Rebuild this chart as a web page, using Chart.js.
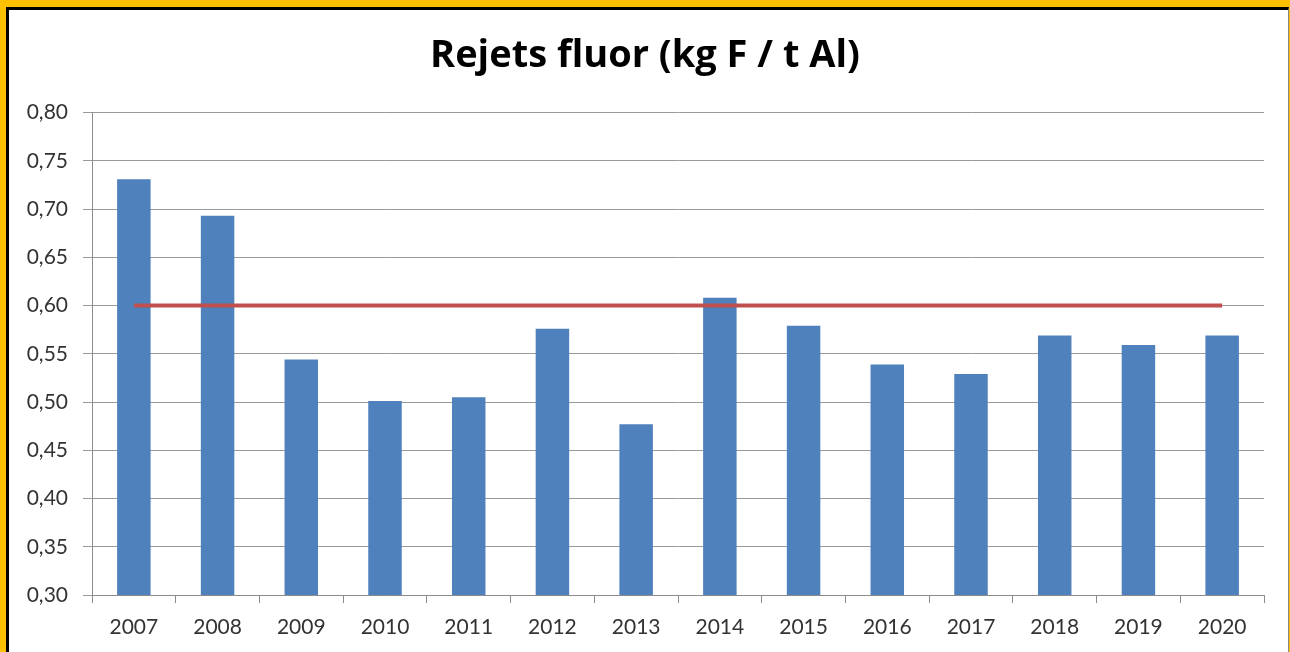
<!DOCTYPE html>
<html>
<head>
<meta charset="utf-8">
<script src="https://cdn.jsdelivr.net/npm/chart.js@4"></script>
<style>
  html, body { margin: 0; padding: 0; background: #FFC000; width: 1290px; height: 652px; overflow: hidden; }
  #frame { position: absolute; left: 6px; top: 7px; width: 1279px; height: 700px; background: #fff;
           border-left: 3px solid #000; border-top: 3px solid #000; border-right: 1px solid #888; }
  #wrap { position: absolute; left: 0; top: 0; width: 1290px; height: 652px; }
</style>
</head>
<body>
<div id="frame"></div>
<div id="wrap"><canvas id="chart" width="1290" height="652"></canvas></div>
<script>
let years = ["2007", "2008", "2009", "2010", "2011", "2012", "2013", "2014", "2015", "2016", "2017", "2018", "2019", "2020"];
let rejets = [0.731, 0.693, 0.544, 0.501, 0.505, 0.576, 0.477, 0.608, 0.579, 0.539, 0.529, 0.569, 0.559, 0.569];
let limite = [0.60, 0.60, 0.60, 0.60, 0.60, 0.60, 0.60, 0.60, 0.60, 0.60, 0.60, 0.60, 0.60, 0.60];

Chart.defaults.font.family = "Lato, 'Liberation Sans', sans-serif";

new Chart("chart", {
    type: "bar",
    data: {
        labels: years,
        datasets: [
            {
                type: "line",
                data: limite,
                borderColor: "#C0504D",
                borderWidth: 4,
                pointRadius: 0,
                order: 0,
            },
            {
                data: rejets,
                backgroundColor: "#4F81BD",
                barPercentage: 0.4,
                categoryPercentage: 1,
                order: 1,
            },
        ],
    },
    options: {
        responsive: false,
        animation: false,
        layout: { padding: 0 },
        plugins: {
            legend: { display: false },
            tooltip: { enabled: false },
            title: {
                display: true,
                text: "Rejets fluor (kg F / t Al)",
                color: "#000",
                font: { family: "'Open Sans', Lato, sans-serif", size: 38, weight: "bold" },
                padding: { top: 33, bottom: 34 },
            },
        },
        scales: {
            x: {
                afterFit: (s) => { s.height = 57; },
                grid: { drawOnChartArea: false, offset: true, tickLength: 8, color: "#8c8c8c" },
                border: { color: "#8c8c8c" },
                ticks: { color: "#333", font: { size: 21 }, padding: 12, maxRotation: 0 },
            },
            y: {
                min: 0.3,
                max: 0.8,
                afterFit: (s) => { s.width = 92; },
                grid: { color: "#9a9a9a", tickLength: 9 },
                border: { color: "#8c8c8c" },
                ticks: {
                    stepSize: 0.05,
                    color: "#333",
                    font: { size: 21 },
                    padding: 15,
                    callback: (v) => v.toFixed(2).replace(".", ","),
                },
            },
            // empty right margin so the title centres on the whole frame
            yr: {
                position: "right",
                afterFit: (s) => { s.width = 26; },
                grid: { drawOnChartArea: false, drawTicks: false },
                border: { display: false },
                ticks: { display: false },
            },
        },
    },
});
</script>
</body>
</html>
